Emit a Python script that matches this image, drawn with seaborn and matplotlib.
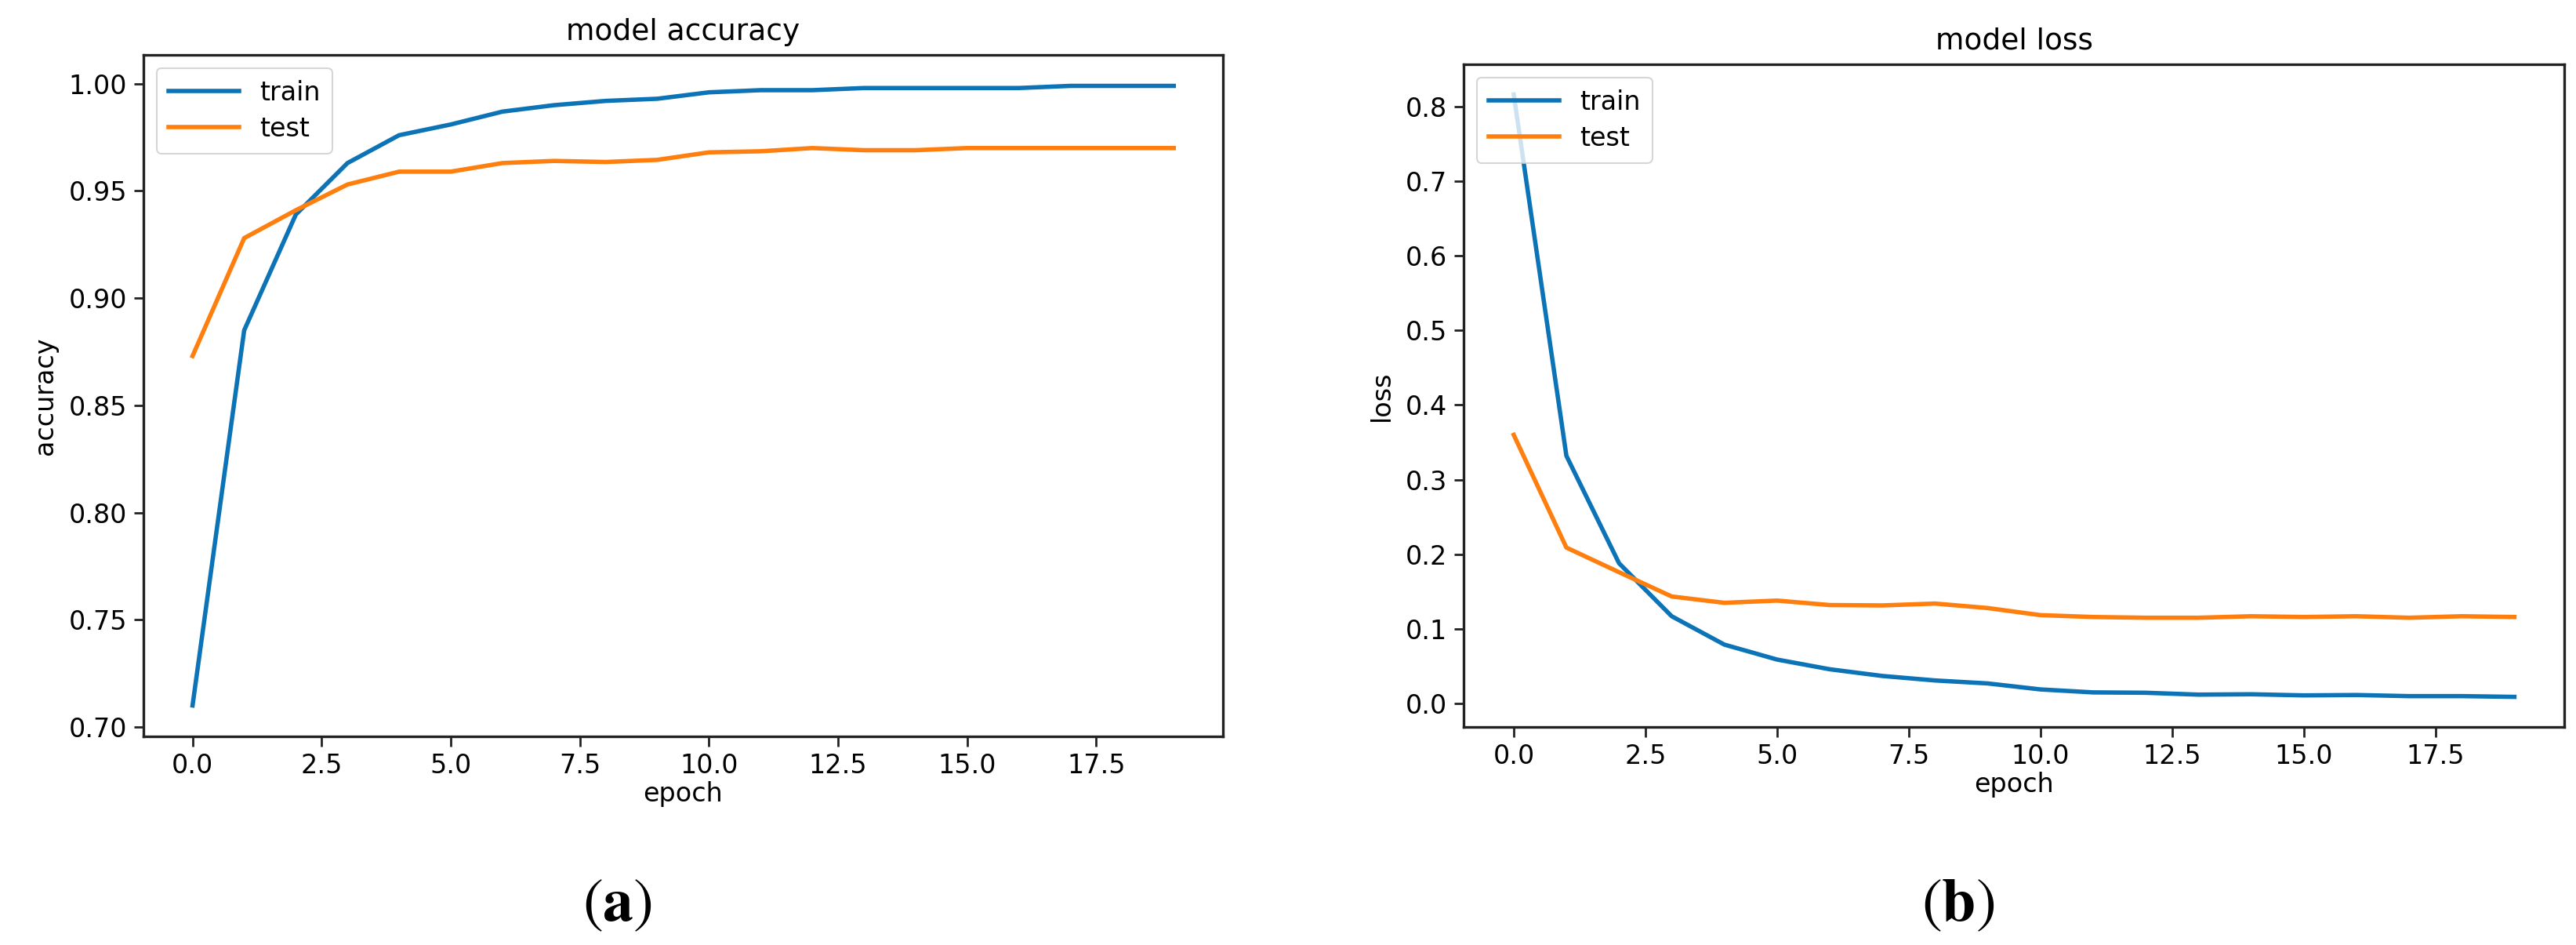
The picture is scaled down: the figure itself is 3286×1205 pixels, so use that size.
import matplotlib
matplotlib.use("Agg")
import matplotlib.pyplot as plt
import seaborn as sns
import pandas as pd
import numpy as np

epochs = list(range(20))
acc_train = [0.710, 0.885, 0.939, 0.963, 0.976, 0.981, 0.987, 0.990, 0.992, 0.993,
             0.996, 0.997, 0.997, 0.998, 0.998, 0.998, 0.998, 0.999, 0.999, 0.999]
acc_test = [0.873, 0.928, 0.941, 0.953, 0.959, 0.959, 0.963, 0.964, 0.9635, 0.9645,
            0.968, 0.9685, 0.970, 0.969, 0.969, 0.970, 0.970, 0.970, 0.970, 0.970]
loss_train = [0.816, 0.332, 0.188, 0.117, 0.079, 0.059, 0.046, 0.037, 0.031, 0.027,
              0.019, 0.015, 0.0145, 0.012, 0.0125, 0.011, 0.0115, 0.010, 0.010, 0.009]
loss_test = [0.360, 0.209, 0.176, 0.1435, 0.135, 0.138, 0.132, 0.1315, 0.134, 0.128,
             0.1185, 0.116, 0.115, 0.115, 0.117, 0.116, 0.117, 0.115, 0.117, 0.116]
series_names = ["train", "test"]
panel_titles = ["model accuracy", "model loss"]
y_labels = ["accuracy", "loss"]
x_label = "epoch"
panel_tags = [r"$(\mathbf{a})$", r"$(\mathbf{b})$"]

plt.rcParams["mathtext.fontset"] = "stix"
plt.rcParams["font.family"] = ["DejaVu Sans"]

colors = {"train": "#0c74b6", "test": "#ff7f0e"}

fig = plt.figure(figsize=(32.86, 12.05), dpi=100)
ax1 = fig.add_axes([0.0557, 0.2207, 0.4190, 0.7212])
ax2 = fig.add_axes([0.5682, 0.2307, 0.4273, 0.7012])

def long_df(train, test):
    return pd.DataFrame({
        "epoch": epochs + epochs,
        "value": list(train) + list(test),
        "series": ["train"] * len(train) + ["test"] * len(test),
    })

panels = [(ax1, acc_train, acc_test), (ax2, loss_train, loss_test)]
for i, (ax, tr, te) in enumerate(panels):
    df = long_df(tr, te)
    sns.lineplot(data=df, x="epoch", y="value", hue="series", hue_order=series_names,
                 palette=colors, linewidth=4.0, ax=ax, legend=True)
    ax.set_title(panel_titles[i], fontsize=27, pad=14)
    ax.set_xlabel(x_label, fontsize=24, labelpad=2)
    ax.set_ylabel(y_labels[i], fontsize=24, labelpad=10)
    ax.tick_params(axis="both", labelsize=24, length=9, width=2, pad=6, color="#222222")
    for s in ax.spines.values():
        s.set_linewidth(2.4)
        s.set_color("#222222")
    ax.set_xticks([0, 2.5, 5, 7.5, 10, 12.5, 15, 17.5])
    ax.set_xticklabels(["0.0", "2.5", "5.0", "7.5", "10.0", "12.5", "15.0", "17.5"])
    ax.margins(x=0.05, y=0.05)
    ax.grid(False)
    leg = ax.legend(loc="upper left", fontsize=24, handlelength=2.7, framealpha=0.8,
                    borderpad=0.45, labelspacing=0.4)
    leg.get_frame().set_linewidth(1.5)
    for line in leg.get_lines():
        line.set_linewidth(4.0)

ax1.set_yticks([0.70, 0.75, 0.80, 0.85, 0.90, 0.95, 1.00])
ax1.set_yticklabels(["0.70", "0.75", "0.80", "0.85", "0.90", "0.95", "1.00"])
ax2.set_yticks([0.0, 0.1, 0.2, 0.3, 0.4, 0.5, 0.6, 0.7, 0.8])
ax2.set_yticklabels(["0.0", "0.1", "0.2", "0.3", "0.4", "0.5", "0.6", "0.7", "0.8"])

fig.text(0.2395, 0.044, panel_tags[0], fontsize=56, ha="center", va="center")
fig.text(0.760, 0.044, panel_tags[1], fontsize=56, ha="center", va="center")

fig.savefig("out.png", dpi=100, facecolor="white")
